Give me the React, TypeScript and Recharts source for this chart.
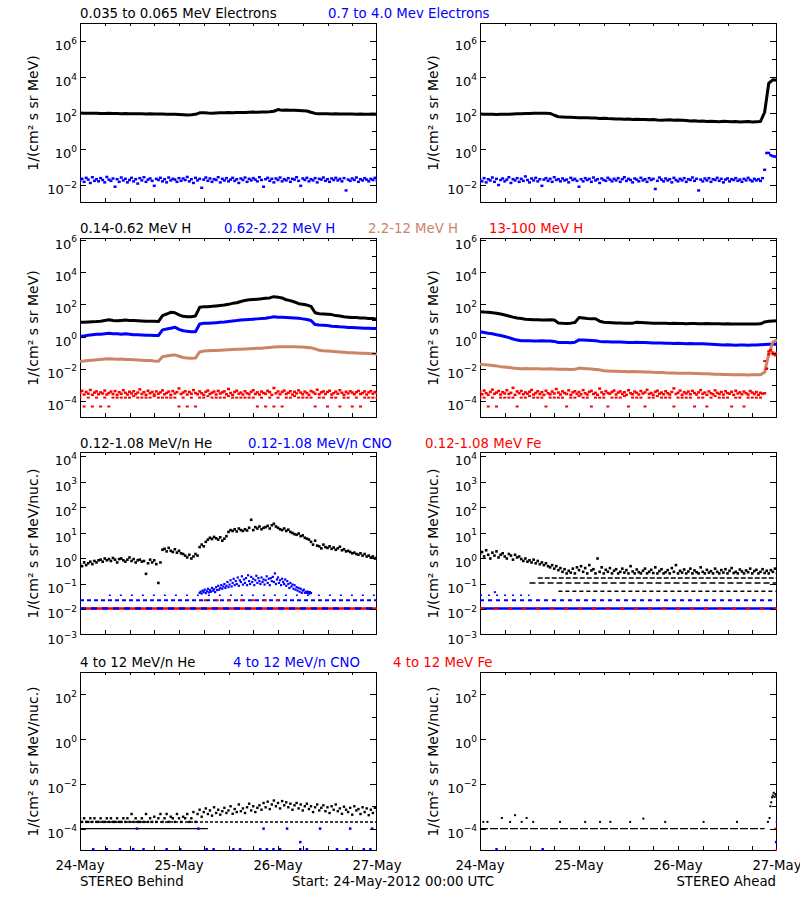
import type { ReactNode } from 'react';
import { ComposedChart, Line, Scatter, XAxis, YAxis, ReferenceArea } from 'recharts';

const FONT = '"DejaVu Sans", Verdana, sans-serif';
const BLACK = '#000000';
const BLUE = '#0000ff';
const BROWN = '#cc8466';
const RED = '#ff0000';

// time axis, hours after 24-May-2012 00:00 UTC
const HOUR_TICKS = [0, 6, 12, 18, 24, 30, 36, 42, 48, 54, 60, 66, 72];
const DAY_TICKS = [0, 24, 48, 72];
const DAY_LABELS = ['24-May', '25-May', '26-May', '27-May'];

// y ticks per row
const ELECTRON_TICKS = [1e-2, 1e-1, 1, 10, 1e2, 1e3, 1e4, 1e5, 1e6];
const ELECTRON_LABELS = [1e-2, 1, 1e2, 1e4, 1e6];
const PROTON_TICKS = [1e-4, 1e-3, 1e-2, 1e-1, 1, 10, 1e2, 1e3, 1e4, 1e5, 1e6];
const PROTON_LABELS = [1e-4, 1e-2, 1, 1e2, 1e4, 1e6];
const ION_LO_TICKS = [1e-3, 1e-2, 1e-1, 1, 10, 1e2, 1e3, 1e4];
const ION_HI_TICKS = [1e-4, 1e-3, 1e-2, 1e-1, 1, 10, 1e2];
const ION_HI_LABELS = [1e-4, 1e-2, 1, 1e2];

// ---- row 1: electrons (hourly / half-hourly) ----
const electronLoBehind = [
  100, 98, 97, 96, 97, 95, 94, 96, 95, 93,
  92, 93, 90, 91, 92, 90, 89, 90, 88, 89,
  87, 86, 85, 84, 82, 80, 78, 80, 84, 102,
  104, 100, 98, 100, 102, 103, 105, 104, 106, 107,
  108, 110, 112, 111, 113, 115, 118, 125, 155, 140,
  145, 142, 140, 138, 135, 130, 110, 95, 92, 90,
  91, 89, 90, 88, 89, 87, 88, 86, 87, 85,
  86, 88, 85,
];
const electronHiBehind = [
  0.018, 0.022, 0.015, 0.025, 0.02, 0.013, 0.027, 0.017, 0.021, 0.016,
  0.024, 0.019, 0.014, 0.028, 0.02, 0.017, 0.023, 0.008, 0.021, 0.015,
  0.026, 0.018, 0.022, 0.014, 0.019, 0.025, 0.016, 0.021, 0.012, 0.024,
  0.018, 0.027, 0.015, 0.02, 0.023, 0.017, 0.009, 0.022, 0.019, 0.025,
  0.016, 0.021, 0.014, 0.026, 0.018, 0.022, 0.02, 0.015, 0.024, 0.017,
  0.023, 0.019, 0.028, 0.016, 0.021, 0.013, 0.025, 0.018, 0.022, 0.007,
  0.02, 0.026, 0.017, 0.023, 0.015, 0.021, 0.019, 0.027, 0.014, 0.022,
  0.018, 0.024, 0.016, 0.02, 0.025, 0.017, 0.021, 0.013, 0.023, 0.019,
  0.026, 0.015, 0.022, 0.018, 0.024, 0.02, 0.016, 0.027, 0.019, 0.008,
  0.021, 0.025, 0.017, 0.022, 0.014, 0.023, 0.019, 0.026, 0.016, 0.021,
  0.018, 0.024, 0.015, 0.022, 0.02, 0.027, 0.017, 0.009, 0.023, 0.019,
  0.025, 0.016, 0.021, 0.018, 0.024, 0.014, 0.022, 0.02, 0.026, 0.017,
  0.021, 0.015, 0.023, 0.019, 0.025, 0.018, 0.022, 0.016, 0.024, 0.005,
  0.02, 0.017, 0.023, 0.019, 0.026, 0.015, 0.021, 0.018, 0.024, 0.02,
  0.016, 0.022, 0.019, 0.025, 0.018,
];
const electronLoAhead = [
  88, 86, 85, 84, 82, 84, 86, 85, 88, 90,
  92, 94, 95, 97, 98, 96, 97, 95, 75, 62,
  60, 58, 58, 57, 55, 54, 55, 53, 52, 50,
  51, 49, 48, 47, 46, 45, 46, 44, 45, 43,
  44, 42, 43, 41, 40, 41, 42, 40, 41, 40,
  38, 36, 37, 35, 36, 34, 35, 34, 33, 35,
  34, 33, 34, 32, 33, 34, 32, 33, 34, 110,
  4500, 7000, 6500,
];
const electronHiAhead = [
  0.02, 0.016, 0.024, 0.014, 0.021, 0.018, 0.026, 0.015, 0.022, 0.01,
  0.019, 0.023, 0.016, 0.02, 0.027, 0.013, 0.021, 0.018, 0.024, 0.015,
  0.022, 0.017, 0.03, 0.019, 0.014, 0.023, 0.018, 0.025, 0.016, 0.021,
  0.009, 0.02, 0.024, 0.017, 0.022, 0.015, 0.027, 0.019, 0.021, 0.016,
  0.023, 0.018, 0.02, 0.014, 0.025, 0.019, 0.022, 0.017, 0.008, 0.021,
  0.016, 0.024, 0.019, 0.022, 0.015, 0.026, 0.018, 0.021, 0.013, 0.023,
  0.019, 0.017, 0.025, 0.02, 0.016, 0.022, 0.018, 0.024, 0.015, 0.021,
  0.027, 0.017, 0.022, 0.019, 0.014, 0.023, 0.02, 0.016, 0.025, 0.018,
  0.021, 0.015, 0.024, 0.019, 0.022, 0.006, 0.017, 0.026, 0.02, 0.016,
  0.023, 0.018, 0.021, 0.014, 0.025, 0.019, 0.016, 0.022, 0.018, 0.024,
  0.015, 0.021, 0.019, 0.026, 0.017, 0.022, 0.005, 0.02, 0.016, 0.023,
  0.018, 0.024, 0.015, 0.021, 0.019, 0.025, 0.017, 0.022, 0.014, 0.02,
  0.023, 0.016, 0.021, 0.019, 0.024, 0.017, 0.02, 0.015, 0.022, 0.018,
  0.025, 0.019, 0.016, 0.022, 0.018, 0.021, 0.017, 0.024, 0.07, 0.6,
  0.6, 0.45, 0.4, 0.38, 0.35,
];

// ---- row 2: protons ----
const protonLoBehind = [
  7.7, 7.8, 8, 8.3, 8.5, 9, 10, 11, 10, 9.5,
  10, 10.5, 10, 9.8, 9.5, 9.2, 9, 8.8, 8.8, 8.5,
  20, 25, 32, 30, 22, 18, 17, 17, 19, 65,
  70, 72, 75, 80, 85, 90, 100, 115, 125, 150,
  175, 190, 200, 210, 220, 240, 250, 300, 280, 250,
  190, 170, 140, 110, 100, 90, 75, 30, 26, 25,
  24, 23, 20, 19, 17, 16, 15, 15, 14, 14,
  13, 13, 12,
];
const protonMidBehind = [
  1.0, 1.1, 1.2, 1.3, 1.4, 1.4, 1.5, 1.6, 1.5, 1.5,
  1.4, 1.5, 1.4, 1.3, 1.3, 1.25, 1.2, 1.2, 1.15, 1.15,
  2.6, 2.9, 3.3, 3.8, 2.8, 2.3, 2.1, 2.0, 2.0, 6.0,
  6.6, 6.8, 7.0, 7.3, 7.6, 8.0, 8.6, 9.3, 9.8, 10.5,
  11, 11.5, 12, 12.5, 13, 13.5, 15, 17, 16, 15.5,
  15, 14.5, 14, 13.5, 12.5, 11.5, 10, 5.5, 5.2, 5.0,
  4.8, 4.4, 4.2, 4.0, 3.9, 3.7, 3.6, 3.5, 3.4, 3.3,
  3.3, 3.2, 3.2,
];
const protonHiBehind = [
  0.028, 0.03, 0.032, 0.034, 0.036, 0.038, 0.04, 0.041, 0.04, 0.039,
  0.04, 0.038, 0.037, 0.036, 0.035, 0.034, 0.033, 0.032, 0.03, 0.029,
  0.056, 0.062, 0.068, 0.072, 0.06, 0.05, 0.046, 0.045, 0.046, 0.11,
  0.126, 0.13, 0.134, 0.138, 0.142, 0.146, 0.15, 0.155, 0.16, 0.165,
  0.17, 0.175, 0.18, 0.185, 0.19, 0.2, 0.21, 0.22, 0.23, 0.23,
  0.235, 0.23, 0.23, 0.225, 0.22, 0.21, 0.2, 0.17, 0.14, 0.13,
  0.125, 0.12, 0.115, 0.11, 0.105, 0.1, 0.098, 0.095, 0.092, 0.09,
  0.088, 0.085, 0.083,
];
const protonTopBehind = [
  3.0e-4, 4.2e-4, 2.5e-4, 3.6e-4, 2.8e-4, 4.8e-4, 2.4e-4, 3.3e-4, 3.9e-4, 2.6e-4,
  3.4e-4, 2.9e-4, 4.4e-4, 2.5e-4, 3.1e-4, 3.8e-4, 2.7e-4, 4.1e-4, 2.4e-4, 3.5e-4,
  2.8e-4, 4.6e-4, 3.2e-4, 2.5e-4, 3.7e-4, 2.9e-4, 4.0e-4, 2.6e-4, 3.3e-4, 5.2e-4,
  2.7e-4, 3.5e-4, 2.4e-4, 4.3e-4, 3.0e-4, 3.6e-4, 2.5e-4, 3.9e-4, 2.8e-4, 3.4e-4,
  4.5e-4, 2.6e-4, 3.1e-4, 3.8e-4, 2.4e-4, 4.1e-4, 2.9e-4, 3.5e-4, 6.0e-4, 2.7e-4,
  3.3e-4, 4.0e-4, 2.5e-4, 3.6e-4, 2.8e-4, 4.7e-4, 3.1e-4, 2.6e-4, 3.9e-4, 3.0e-4,
  2.4e-4, 3.7e-4, 4.4e-4, 2.7e-4, 3.2e-4, 3.8e-4, 2.5e-4, 4.2e-4, 2.9e-4, 3.4e-4,
  3.9e-4, 2.6e-4, 5.5e-4, 3.1e-4, 2.4e-4, 3.6e-4, 4.3e-4, 2.8e-4, 3.3e-4, 2.5e-4,
  4.0e-4, 3.0e-4, 2.6e-4, 3.7e-4, 4.6e-4, 2.7e-4, 3.4e-4, 2.5e-4, 3.8e-4, 3.1e-4,
  2.8e-4, 4.2e-4, 3.5e-4, 2.4e-4, 6.3e-4, 3.0e-4, 3.9e-4, 2.6e-4, 3.6e-4, 4.4e-4,
  2.7e-4, 3.2e-4, 4.0e-4, 2.5e-4, 3.7e-4, 2.9e-4, 4.5e-4, 3.3e-4, 2.6e-4, 3.8e-4,
  3.1e-4, 2.4e-4, 4.1e-4, 3.5e-4, 2.8e-4, 5.0e-4, 2.6e-4, 3.4e-4, 3.9e-4, 2.7e-4,
  3.6e-4, 4.3e-4, 2.5e-4, 3.0e-4, 3.8e-4, 2.8e-4, 4.6e-4, 3.2e-4, 2.4e-4, 3.7e-4,
  2.9e-4, 4.0e-4, 3.3e-4, 2.6e-4, 3.5e-4, 4.2e-4, 2.7e-4, 3.1e-4, 3.9e-4, 2.5e-4,
  3.4e-4, 4.1e-4, 2.8e-4, 3.6e-4, 3.0e-4,
];
const protonTopBehindLow = [
  1.6e-4, 4.5e-5, 1.6e-4, 4.5e-5, 1.6e-4, 4.5e-5, 1.6e-4, 4.5e-5, 1.6e-4, 1.6e-4,
  1.6e-4, 1.6e-4, 1.6e-4, 2e-4, 1.6e-4, 1.6e-4, 1.6e-4, 1.6e-4, 2e-4, 1.6e-4,
  1.6e-4, 1.6e-4, 1.6e-4, 1.6e-4, 4.5e-5, 1.6e-4, 4.5e-5, 1.6e-4, 4.5e-5, 1.6e-4,
  1.6e-4, 2e-4, 1.6e-4, 1.6e-4, 1.6e-4, 1.6e-4, 2e-4, 1.6e-4, 1.6e-4, 1.6e-4,
  1.6e-4, 1.6e-4, 1.6e-4, 4.5e-5, 1.6e-4, 4.5e-5, 1.6e-4, 4.5e-5, 1.6e-4, 4.5e-5,
  1.6e-4, 1.6e-4, 2e-4, 1.6e-4, 1.6e-4, 1.6e-4, 1.6e-4, 4.5e-5, 1.6e-4, 1.6e-4,
  4.5e-5, 1.6e-4, 1.6e-4, 4.5e-5, 1.6e-4, 1.6e-4, 4.5e-5, 1.6e-4, 4.5e-5, 1.6e-4,
  1.6e-4, 1.6e-4, 1.6e-4,
];
const protonLoAhead = [
  35, 33, 32, 30, 28, 25, 22, 19, 16, 14,
  13, 12, 11.5, 11, 11, 10.8, 10.5, 11, 10.5, 7,
  6.6, 6.5, 6.8, 7.5, 15, 14, 13, 12.5, 12.6, 9,
  7.8, 7.5, 7.3, 7, 6.9, 6.8, 6.6, 6.8, 7.8, 7.5,
  7.2, 7, 6.8, 6.7, 6.6, 6.6, 6.5, 6.6, 6.4, 6.5,
  6.3, 6.4, 6.5, 6.3, 6.2, 6.4, 6.3, 6.2, 6.3, 6.1,
  6.2, 6.0, 6.1, 6.0, 5.9, 6.0, 6.0, 6.1, 6.2, 8,
  9, 9.3, 9.5,
];
const protonMidAhead = [
  2.0, 1.8, 1.6, 1.5, 1.3, 1.15, 1.0, 0.85, 0.7, 0.6,
  0.55, 0.54, 0.55, 0.53, 0.52, 0.54, 0.53, 0.52, 0.5, 0.43,
  0.42, 0.42, 0.41, 0.44, 0.62, 0.6, 0.58, 0.56, 0.54, 0.5,
  0.48, 0.47, 0.46, 0.45, 0.45, 0.44, 0.43, 0.42, 0.44, 0.43,
  0.42, 0.41, 0.4, 0.4, 0.39, 0.38, 0.38, 0.37, 0.38, 0.37,
  0.36, 0.37, 0.36, 0.35, 0.35, 0.34, 0.33, 0.32, 0.31, 0.3,
  0.31, 0.3, 0.29, 0.3, 0.3, 0.29, 0.3, 0.3, 0.31, 0.32,
  0.33, 0.33, 0.33,
];
const protonHiAhead = [
  0.019, 0.018, 0.017, 0.016, 0.015, 0.0135, 0.013, 0.012, 0.011, 0.0105,
  0.01, 0.0102, 0.01, 0.0098, 0.01, 0.0097, 0.0095, 0.0098, 0.0096, 0.0094,
  0.0092, 0.0093, 0.009, 0.0092, 0.011, 0.0105, 0.01, 0.0095, 0.009, 0.0085,
  0.0075, 0.0072, 0.007, 0.0069, 0.0068, 0.0067, 0.0066, 0.0067, 0.0065, 0.0064,
  0.0063, 0.0062, 0.006, 0.0059, 0.0058, 0.0056, 0.0055, 0.0054, 0.0053, 0.0052,
  0.0053, 0.0052, 0.0051, 0.005, 0.0049, 0.0048, 0.0047, 0.0046, 0.0045, 0.0044,
  0.0044, 0.0043, 0.0043, 0.0042, 0.0042, 0.0041, 0.0042, 0.0042, 0.0043, 0.006,
  0.08, 0.45, 0.6,
];
const protonTopAhead = [
  3.8e-4, 2.6e-4, 4.4e-4, 3.0e-4, 2.4e-4, 3.6e-4, 5.0e-4, 2.8e-4, 3.3e-4, 4.1e-4,
  2.5e-4, 3.5e-4, 2.9e-4, 4.6e-4, 2.7e-4, 3.2e-4, 6.5e-4, 2.4e-4, 3.9e-4, 3.0e-4,
  4.2e-4, 2.6e-4, 3.4e-4, 2.8e-4, 3.7e-4, 4.8e-4, 2.5e-4, 3.1e-4, 4.0e-4, 2.7e-4,
  3.5e-4, 2.4e-4, 4.3e-4, 3.0e-4, 2.6e-4, 3.8e-4, 2.9e-4, 5.5e-4, 3.3e-4, 2.5e-4,
  3.9e-4, 3.1e-4, 2.7e-4, 4.5e-4, 2.4e-4, 3.4e-4, 4.0e-4, 2.8e-4, 3.6e-4, 2.6e-4,
  4.7e-4, 3.0e-4, 2.5e-4, 3.7e-4, 4.2e-4, 2.7e-4, 3.2e-4, 2.4e-4, 5.8e-4, 3.4e-4,
  2.6e-4, 4.0e-4, 3.1e-4, 2.8e-4, 3.6e-4, 4.4e-4, 2.5e-4, 3.3e-4, 3.9e-4, 2.7e-4,
  3.5e-4, 2.4e-4, 4.6e-4, 3.0e-4, 2.6e-4, 3.8e-4, 3.2e-4, 2.5e-4, 4.1e-4, 2.9e-4,
  3.4e-4, 4.9e-4, 2.7e-4, 3.1e-4, 2.4e-4, 3.7e-4, 4.3e-4, 2.8e-4, 3.3e-4, 2.6e-4,
  4.0e-4, 3.0e-4, 2.5e-4, 3.6e-4, 6.0e-4, 2.7e-4, 3.2e-4, 4.4e-4, 2.4e-4, 3.5e-4,
  2.9e-4, 3.8e-4, 2.6e-4, 4.2e-4, 3.1e-4, 2.5e-4, 3.4e-4, 4.7e-4, 2.8e-4, 3.3e-4,
  2.4e-4, 3.9e-4, 3.0e-4, 2.6e-4, 4.5e-4, 3.2e-4, 2.7e-4, 3.6e-4, 2.5e-4, 4.0e-4,
  3.1e-4, 2.8e-4, 3.7e-4, 2.4e-4, 4.3e-4, 2.9e-4, 3.4e-4, 2.6e-4, 3.8e-4, 3.0e-4,
  2.5e-4, 4.1e-4, 3.3e-4, 2.7e-4, 3.6e-4, 2.4e-4, 3.2e-4, 2.8e-4, 3.0e-4, 0.01,
  0.08, 0.14, 0.1, 0.07, 0.09,
];
const protonTopAheadLow = [
  1.6e-4, 1.6e-4, 4.5e-5, 1.6e-4, 4.5e-5, 1.6e-4, 1.6e-4, 1.6e-4, 1.6e-4, 4.5e-5,
  1.6e-4, 1.6e-4, 2e-4, 1.6e-4, 1.6e-4, 1.6e-4, 4.5e-5, 1.6e-4, 1.6e-4, 1.6e-4,
  1.6e-4, 4.5e-5, 1.6e-4, 1.6e-4, 2e-4, 1.6e-4, 1.6e-4, 4.5e-5, 1.6e-4, 1.6e-4,
  1.6e-4, 4.5e-5, 1.6e-4, 1.6e-4, 1.6e-4, 2e-4, 4.5e-5, 1.6e-4, 1.6e-4, 1.6e-4,
  4.5e-5, 1.6e-4, 1.6e-4, 2e-4, 1.6e-4, 1.6e-4, 1.6e-4, 4.5e-5, 1.6e-4, 1.6e-4,
  1.6e-4, 1.6e-4, 4.5e-5, 1.6e-4, 1.6e-4, 4.5e-5, 1.6e-4, 2e-4, 1.6e-4, 1.6e-4,
  1.6e-4, 4.5e-5, 1.6e-4, 1.6e-4, 4.5e-5, 1.6e-4, 1.6e-4, 1.6e-4, 1.6e-4, 0.03,
  0.12, 0.08, 0.1,
];

// ---- row 3: 0.12-1.08 MeV/n ions ----
const heliumLoBehind = [
  0.6, 0.5, 0.7, 0.55, 0.65, 0.75, 0.6, 0.8, 0.7, 0.85,
  0.9, 0.75, 1.0, 0.85, 0.95, 0.8, 1.05, 0.9, 0.7, 0.95,
  1.0, 0.85, 0.75, 0.9, 1.1, 0.8, 0.95, 0.7, 0.85, 0.9,
  0.75, 0.8, 0.25, 0.65, 0.9, 0.7, 0.85, 0.6, 0.11, 0.7,
  2.2, 2.4, 1.9, 2.6, 2.0, 1.8, 2.3, 1.7, 2.0, 1.6,
  1.5, 1.3, 1.1, 1.4, 1.0, 1.2, 1.5, 1.3, 2.8, 3.5,
  3.0, 4.5, 5.5, 6.5, 5.8, 7.0, 6.2, 5.5, 6.8, 5.0,
  6.0, 7.5, 11, 13, 12, 14, 11.5, 15, 13, 12,
  14, 12.5, 16, 33, 13, 17, 15, 18, 14, 16,
  17, 19, 15, 20, 23, 18, 16, 14, 13, 15,
  12, 13.5, 11, 10, 9, 8.5, 9.5, 7.5, 8, 6.5,
  6, 5.5, 4.5, 3.5, 5, 3.2, 3.0, 2.5, 3.5, 2.8,
  2.6, 3.0, 2.4, 2.7, 2.2, 2.5, 2.9, 2.1, 2.3, 1.9,
  2.0, 1.8, 1.6, 1.7, 1.5, 1.4, 1.6, 1.3, 1.5, 1.2,
  1.3, 1.1, 1.2, 1.0, 1.15,
];
const cnoLoBehindHumpStart = 29;
const cnoLoBehindHump = [
  0.045, 0.05, 0.042, 0.055, 0.048, 0.06, 0.044, 0.052,
  0.065, 0.047, 0.058, 0.05, 0.07, 0.055, 0.062, 0.048,
  0.075, 0.058, 0.085, 0.06, 0.07, 0.09, 0.065, 0.08,
  0.1, 0.07, 0.085, 0.12, 0.075, 0.095, 0.14, 0.08,
  0.11, 0.16, 0.09, 0.13, 0.1, 0.18, 0.085, 0.14,
  0.12, 0.2, 0.095, 0.15, 0.11, 0.17, 0.09, 0.22,
  0.13, 0.1, 0.19, 0.12, 0.16, 0.09, 0.14, 0.21,
  0.11, 0.17, 0.13, 0.1, 0.18, 0.12, 0.15, 0.095,
  0.14, 0.2, 0.11, 0.16, 0.09, 0.17, 0.13, 0.19,
  0.12, 0.26, 0.1, 0.15, 0.18, 0.11, 0.14, 0.09,
  0.16, 0.12, 0.1, 0.15, 0.085, 0.13, 0.1, 0.07,
  0.11, 0.08, 0.095, 0.065, 0.09, 0.06, 0.075, 0.055,
  0.07, 0.05, 0.065, 0.045, 0.055, 0.06, 0.045, 0.05,
  0.045, 0.05, 0.042, 0.048, 0.044,
];
const cnoLoBehindLevels = [
  { from: 7, to: 72, value: 0.036 },
  { from: 0, to: 72, value: 0.023 },
  { from: 0, to: 72, value: 0.011 },
];
const feLoBehindLevels = [
  { from: 30, to: 50, value: 0.023 },
  { from: 0, to: 72, value: 0.011 },
];
const heliumLoAhead = [
  1.5, 1.8, 1.2, 2.1, 1.4, 1.0, 1.7, 1.3, 1.9, 1.1,
  1.4, 1.6, 1.2, 1.0, 1.5, 1.3, 0.9, 1.4, 1.1, 1.2,
  0.95, 0.8, 1.0, 0.75, 0.85, 0.7, 0.9, 0.65, 0.8, 0.6,
  0.7, 0.55, 0.65, 0.5, 0.45, 0.55, 0.4, 0.5, 0.35, 0.42,
  0.3, 0.38, 0.26, 0.33, 0.28, 0.4, 0.26, 0.45, 0.35, 0.5,
  0.3, 0.42, 0.26, 0.55, 0.34, 0.38, 0.26, 1.0, 0.3, 0.45,
  0.26, 0.36, 0.3, 0.42, 0.26, 0.33, 0.38, 0.26, 0.3, 0.4,
  0.28, 0.35, 0.26, 0.5, 0.31, 0.26, 0.37, 0.29, 0.26, 0.33,
  0.4, 0.26, 0.3, 0.36, 0.27, 0.45, 0.26, 0.32, 0.38, 0.26,
  0.29, 0.35, 0.26, 0.42, 0.3, 0.55, 0.26, 0.33, 0.28, 0.37,
  0.26, 0.31, 0.4, 0.26, 0.34, 0.29, 0.26, 0.45, 0.3, 0.26,
  0.36, 0.28, 0.32, 0.26, 0.4, 0.3, 0.26, 0.35, 0.28, 0.38,
  0.26, 0.33, 0.42, 0.27, 0.3, 0.26, 0.37, 0.31, 0.26, 0.34,
  0.29, 0.4, 0.26, 0.32, 0.36, 0.26, 0.3, 0.38, 0.27, 0.33,
  0.26, 0.35, 0.3, 0.4, 0.26,
];
const heliumLoAheadLevels = [
  { from: 14, to: 72, value: 0.17 },
  { from: 12, to: 72, value: 0.11 },
  { from: 19, to: 72, value: 0.052 },
];
const cnoLoAheadLevels = [
  { from: 0, to: 12, value: 0.036 },
  { from: 0, to: 72, value: 0.023 },
  { from: 0, to: 72, value: 0.011 },
];
const feLoAheadLevels = [{ from: 0, to: 72, value: 0.011 }];
const cnoLoAheadHours = [3.6];
const cnoLoAheadValues = [0.048];

// ---- row 4: 4-12 MeV/n ions ----
const heliumHiBehind = [
  2.9e-4, 2e-4, 2.9e-4, 2e-4, 2e-4, 2.9e-4, 2e-4, 2.9e-4, 2e-4, 2e-4,
  2.9e-4, 2e-4, 2e-4, 2.9e-4, 2e-4, 2.9e-4, 2e-4, 2e-4, 2.9e-4, 2e-4,
  2e-4, 2.9e-4, 2e-4, 2.9e-4, 2e-4, 4.5e-4, 2e-4, 2.9e-4, 2e-4, 2e-4,
  2.9e-4, 2e-4, 4.5e-4, 2e-4, 2.9e-4, 2e-4, 3.4e-4, 2e-4, 2.9e-4, 4.5e-4,
  2e-4, 2.9e-4, 4.5e-4, 2e-4, 3.4e-4, 2.9e-4, 2e-4, 4.5e-4, 2.9e-4, 2e-4,
  3.4e-4, 2.9e-4, 4.5e-4, 2e-4, 2.9e-4, 5.5e-4, 2e-4, 4.5e-4, 7e-4, 3.4e-4,
  5.5e-4, 8e-4, 4.5e-4, 6.5e-4, 3.8e-4, 9e-4, 5e-4, 7e-4, 4.2e-4, 6e-4,
  8.5e-4, 5e-4, 6.5e-4, 1e-3, 4.6e-4, 7.5e-4, 5.5e-4, 1.2e-3, 6e-4, 8e-4,
  5e-4, 9e-4, 1.3e-3, 6.5e-4, 1e-3, 5.5e-4, 8.5e-4, 1.1e-3, 7e-4, 1.4e-3,
  9e-4, 1.6e-3, 7.5e-4, 1.2e-3, 1.8e-3, 1e-3, 1.4e-3, 8e-4, 1.7e-3, 1.1e-3,
  1.5e-3, 9e-4, 1.3e-3, 7e-4, 1.1e-3, 1.4e-3, 8e-4, 1.2e-3, 6.5e-4, 1e-3,
  1.3e-3, 7.5e-4, 1e-3, 5.5e-4, 9e-4, 1.2e-3, 6.5e-4, 8.5e-4, 1.1e-3, 6e-4,
  9e-4, 5e-4, 1e-3, 7e-4, 1.2e-3, 6e-4, 8e-4, 4.6e-4, 9.5e-4, 7e-4,
  5.5e-4, 8.5e-4, 4.2e-4, 1e-3, 6.5e-4, 7.5e-4, 4.5e-4, 9e-4, 5.5e-4, 8e-4,
  4e-4, 7e-4, 5e-4, 8.5e-4, 6e-4,
];
const heliumHiBehindLevels = [
  { from: 0, to: 31, value: 1e-4 },
  { from: 0, to: 72, value: 2e-4 },
];
const cnoHiBehindHours = [
  3.2, 6.5, 9.7, 12.9, 13.8, 15.4, 21, 24.3, 28.7, 30.7,
  32.4, 37.2, 38.8, 43.7, 44.5, 45.3, 46.9, 48.5, 50.2, 53.4,
  53.4, 55, 58.2, 62.3, 64.7, 65.5, 68.8, 70.4, 70.8,
];
const cnoHiBehindValues = [
  1.2e-5, 1.2e-5, 1.2e-5, 1.2e-5, 1e-4, 1.2e-5, 1.2e-5, 1.2e-5, 1e-4, 1.2e-5,
  1.2e-5, 1.2e-5, 1.2e-5, 1.2e-5, 1e-4, 1.2e-5, 1.2e-5, 1.2e-5, 1e-4, 1.2e-5,
  2.5e-5, 1.2e-5, 1e-4, 1.2e-5, 1.2e-5, 1e-4, 1.2e-5, 1.2e-5, 1e-4,
];
const heliumHiAheadHours = [
  0.8, 1.8, 5.3, 7.3, 8.5, 10.1, 11.3, 12.9, 19.4, 25.5,
  29.1, 31.6, 36.4, 39.6, 44.9, 54.2, 62.3, 69.8, 70.2, 70.4,
  70.6, 70.8, 71, 71.2, 71.4, 71.6, 71.8, 72,
];
const heliumHiAheadValues = [
  2e-4, 2e-4, 3e-4, 2e-4, 4e-4, 2e-4, 3e-4, 2e-4, 2e-4, 2e-4,
  2e-4, 2e-4, 2e-4, 2.8e-4, 2e-4, 2e-4, 2e-4, 2e-4, 3e-4, 1e-3,
  1.5e-3, 2.5e-3, 3e-3, 4e-3, 2.6e-3, 3.5e-3, 3e-3, 4.5e-3,
];
const heliumHiAheadLevels = [{ from: 0, to: 69, value: 1e-4 }];
const cnoHiAheadHours = [4, 15.2, 71.8, 72];
const cnoHiAheadValues = [1.2e-5, 1.2e-5, 2.5e-5, 2e-4];
const feHiAheadHours = [71.6, 71.9];
const feHiAheadValues = [1e-4, 1.1e-5];

// ---- layout ----
const PLOT_W = 297;
const CHART_W = 400;
const Y_AXIS_W = 80;
const PAD_TOP = 5;
const X_AXIS_H = 40;

type Pt = { t: number; v: number };
type Level = { from: number; to: number; value: number };

const sampled = (values: number[], step: number, start = 0): Pt[] =>
  values.map((v, i) => ({ t: start + i * step, v }));
const paired = (hours: number[], values: number[]): Pt[] =>
  hours.map((t, i) => ({ t, v: values[i] }));

const square = (w: number, h: number, color: string) => (props: any) => {
  const { cx, cy } = props;
  if (!Number.isFinite(cx) || !Number.isFinite(cy)) return <g />;
  return <rect x={cx - w / 2} y={cy - h / 2} width={w} height={h} fill={color} />;
};

const trace = (key: string, data: Pt[], color: string, width = 3) => (
  <Line key={key} data={data} dataKey="v" type="linear" stroke={color} strokeWidth={width}
    strokeLinejoin="round" dot={false} activeDot={false} isAnimationActive={false} />
);
const dots = (key: string, data: Pt[], color: string, w = 2, h = w) => (
  <Scatter key={key} data={data} dataKey="v" fill={color} shape={square(w, h, color)} isAnimationActive={false} />
);
const level = (key: string, l: Level, color: string, dash?: string, width = 2) => (
  <Line key={key} data={[{ t: l.from, v: l.value }, { t: l.to, v: l.value }]} dataKey="v" stroke={color}
    strokeWidth={width} strokeDasharray={dash} dot={false} activeDot={false} isAnimationActive={false} />
);

interface PanelSpec {
  col: number;
  top: number;
  boxHeight: number;
  domain: [number, number];
  ticks: number[];
  labelled: number[];
  dates?: boolean;
}

const expText = (v: number) => {
  const e = Math.round(Math.log10(v));
  return e < 0 ? `\u2212${-e}` : String(e);
};

const yTick = (spec: PanelSpec) => (props: any) => {
  const { x, y, payload } = props;
  const value = payload.value as number;
  const labelled = spec.labelled.includes(value);
  const left = x + 3;
  const right = left + PLOT_W - 1;
  const edge = value <= spec.domain[0] * 1.01 || value >= spec.domain[1] * 0.99;
  const py = Math.round(y) + 0.5;
  return (
    <g>
      {!edge && labelled && <line x1={left} x2={left + 6} y1={py} y2={py} stroke={BLACK} />}
      {!edge && <line x1={right - (labelled ? 6 : 4)} x2={right} y1={py} y2={py} stroke={BLACK} />}
      {labelled && (
        <text x={x} y={y + 9} textAnchor="end" fontFamily={FONT} fontSize={13} fill={BLACK}>
          10<tspan dy={-6.5} fontSize={9}>{expText(value)}</tspan>
        </text>
      )}
    </g>
  );
};

const xTick = (spec: PanelSpec) => (props: any) => {
  const { x, y, payload } = props;
  const h = payload.value as number;
  const px = Math.round(x) + 0.5;
  const edge = h === 0 || h === 72;
  const day = DAY_TICKS.indexOf(h);
  return (
    <g>
      {!edge && <line x1={px} x2={px} y1={y} y2={y - 5} stroke={BLACK} />}
      {!edge && <line x1={px} x2={px} y1={y - spec.boxHeight} y2={y - spec.boxHeight + 3} stroke={BLACK} />}
      {spec.dates && day >= 0 && (
        <text x={x} y={y + 19} textAnchor="middle" fontFamily={FONT} fontSize={13.3} fill={BLACK}>
          {DAY_LABELS[day]}
        </text>
      )}
    </g>
  );
};

const frame = (props: any) => (
  <rect x={Math.round(props.x) + 0.5} y={Math.round(props.y) + 0.5}
    width={Math.round(props.width) - 1} height={Math.round(props.height) - 1}
    fill="none" stroke={BLACK} strokeWidth={1} />
);

function panel(key: string, spec: PanelSpec, series: ReactNode[]) {
  return (
    <div key={key} style={{ position: 'absolute', left: spec.col * CHART_W, top: spec.top - PAD_TOP }}>
      <ComposedChart width={CHART_W} height={PAD_TOP + spec.boxHeight + X_AXIS_H}
        margin={{ top: PAD_TOP, right: CHART_W - Y_AXIS_W - PLOT_W, bottom: 0, left: 0 }}>
        <XAxis type="number" dataKey="t" domain={[0, 72]} allowDataOverflow ticks={HOUR_TICKS} interval={0}
          height={X_AXIS_H} axisLine={false} tickLine={false} tickSize={0} tickMargin={0} tick={xTick(spec)} />
        <YAxis type="number" dataKey="v" scale="log" domain={spec.domain} allowDataOverflow ticks={spec.ticks}
          interval={0} width={Y_AXIS_W} axisLine={false} tickLine={false} tickSize={0} tickMargin={3}
          tick={yTick(spec)} />
        {series}
        <ReferenceArea x1={0} x2={72} y1={spec.domain[0]} y2={spec.domain[1]} ifOverflow="visible" shape={frame} />
      </ComposedChart>
    </div>
  );
}

const ROW1 = { top: 23, boxHeight: 180, domain: [1e-3, 1e7] as [number, number], ticks: ELECTRON_TICKS, labelled: ELECTRON_LABELS };
const ROW2 = { top: 238, boxHeight: 180, domain: [8.7e-6, 1.32e6] as [number, number], ticks: PROTON_TICKS, labelled: PROTON_LABELS };
const ROW3 = { top: 452, boxHeight: 183, domain: [1e-3, 1.5e4] as [number, number], ticks: ION_LO_TICKS, labelled: ION_LO_TICKS };
const ROW4 = { top: 672, boxHeight: 179, domain: [1e-5, 1e3] as [number, number], ticks: ION_HI_TICKS, labelled: ION_HI_LABELS, dates: true };

export default function App() {
  return (
    <div style={{ position: 'absolute', left: 0, top: 0, width: 800, height: 900, overflow: 'hidden', background: '#fff' }}>
      <style>{'.recharts-surface{overflow:visible}'}</style>
      {panel('e-b', { ...ROW1, col: 0 }, [
        trace('e1', sampled(electronLoBehind, 1), BLACK, 3),
        dots('e2', sampled(electronHiBehind, 0.5), BLUE, 3, 2.5),
      ])}
      {panel('e-a', { ...ROW1, col: 1 }, [
        trace('e1', sampled(electronLoAhead, 1), BLACK, 3),
        dots('e2', sampled(electronHiAhead, 0.5), BLUE, 3, 2.5),
      ])}
      {panel('p-b', { ...ROW2, col: 0 }, [
        trace('p1', sampled(protonLoBehind, 1), BLACK, 3),
        trace('p2', sampled(protonMidBehind, 1), BLUE, 3),
        trace('p3', sampled(protonHiBehind, 1), BROWN, 3),
        dots('p4', sampled(protonTopBehind, 0.5), RED, 3, 2.5),
        dots('p5', sampled(protonTopBehindLow, 1), RED, 3, 2),
      ])}
      {panel('p-a', { ...ROW2, col: 1 }, [
        trace('p1', sampled(protonLoAhead, 1), BLACK, 3),
        trace('p2', sampled(protonMidAhead, 1), BLUE, 3),
        trace('p3', sampled(protonHiAhead, 1), BROWN, 3),
        dots('p4', sampled(protonTopAhead, 0.5), RED, 3, 2.5),
        dots('p5', sampled(protonTopAheadLow, 1), RED, 3, 2),
      ])}
      {panel('i-b', { ...ROW3, col: 0 }, [
        level('l1', cnoLoBehindLevels[0], BLUE, '2 9', 1.5),
        level('l2', cnoLoBehindLevels[1], BLUE, '4 3', 2),
        level('l3', feLoBehindLevels[0], RED, '3 9', 2),
        level('l4', feLoBehindLevels[1], RED, undefined, 2.5),
        level('l5', cnoLoBehindLevels[2], BLUE, '6 5', 2.5),
        dots('c1', sampled(cnoLoBehindHump, 0.25, cnoLoBehindHumpStart), BLUE, 2.2),
        dots('h1', sampled(heliumLoBehind, 0.5), BLACK, 2.6),
      ])}
      {panel('i-a', { ...ROW3, col: 1 }, [
        level('l1', cnoLoAheadLevels[0], BLUE, '2 6', 1.5),
        level('l2', cnoLoAheadLevels[1], BLUE, '4 4', 2),
        level('l3', cnoLoAheadLevels[2], BLUE, undefined, 2.5),
        level('l4', feLoAheadLevels[0], RED, '4 10', 2.5),
        dots('c1', paired(cnoLoAheadHours, cnoLoAheadValues), BLUE, 2),
        level('k1', heliumLoAheadLevels[0], BLACK, '5 2', 1.5),
        level('k2', heliumLoAheadLevels[1], BLACK, '6 3', 1.5),
        level('k3', heliumLoAheadLevels[2], BLACK, '4 3', 1.5),
        dots('h1', sampled(heliumLoAhead, 0.5), BLACK, 2.6),
      ])}
      {panel('j-b', { ...ROW4, col: 0 }, [
        level('k1', heliumHiBehindLevels[0], BLACK, undefined, 1.2),
        level('k2', heliumHiBehindLevels[1], BLACK, '3 2', 1.5),
        dots('h1', sampled(heliumHiBehind, 0.5), BLACK, 2.4),
        dots('c1', paired(cnoHiBehindHours, cnoHiBehindValues), BLUE, 2.5),
      ])}
      {panel('j-a', { ...ROW4, col: 1 }, [
        level('k1', heliumHiAheadLevels[0], BLACK, '8 2', 1.2),
        dots('h1', paired(heliumHiAheadHours, heliumHiAheadValues), BLACK, 2),
        dots('c1', paired(cnoHiAheadHours, cnoHiAheadValues), BLUE, 2.5),
        dots('f1', paired(feHiAheadHours, feHiAheadValues), RED, 2),
      ])}
      <svg width={800} height={900} style={{ position: 'absolute', left: 0, top: 0, pointerEvents: 'none' }}
        fontFamily={FONT} fontSize={13.3}>
        <text x={80} y={18.3} fill={BLACK}>0.035 to 0.065 MeV Electrons</text>
        <text x={328} y={18.3} fill={BLUE}>0.7 to 4.0 Mev Electrons</text>
        <text x={80} y={233.3} fill={BLACK}>0.14-0.62 MeV H</text>
        <text x={224} y={233.3} fill={BLUE}>0.62-2.22 MeV H</text>
        <text x={368} y={233.3} fill={BROWN}>2.2-12 MeV H</text>
        <text x={489} y={233.3} fill={RED}>13-100 MeV H</text>
        <text x={80} y={447.5} fill={BLACK}>0.12-1.08 MeV/n He</text>
        <text x={248} y={447.5} fill={BLUE}>0.12-1.08 MeV/n CNO</text>
        <text x={425} y={447.5} fill={RED}>0.12-1.08 MeV Fe</text>
        <text x={80} y={666.7} fill={BLACK}>4 to 12 MeV/n He</text>
        <text x={233} y={666.7} fill={BLUE}>4 to 12 MeV/n CNO</text>
        <text x={393} y={666.7} fill={RED}>4 to 12 MeV Fe</text>
        <text x={80} y={886} fill={BLACK}>STEREO Behind</text>
        <text x={292} y={886} fill={BLACK}>Start: 24-May-2012 00:00 UTC</text>
        <text x={776} y={886} fill={BLACK} textAnchor="end">STEREO Ahead</text>
        {[0, 400].map((dx) => (
          <g key={dx} fontSize={14} fill={BLACK} textAnchor="middle">
            <text x={dx + 38} y={113} transform={`rotate(-90 ${dx + 38} 113)`}>1/(cm² s sr MeV)</text>
            <text x={dx + 38} y={328} transform={`rotate(-90 ${dx + 38} 328)`}>1/(cm² s sr MeV)</text>
            <text x={dx + 38} y={543.5} transform={`rotate(-90 ${dx + 38} 543.5)`}>1/(cm² s sr MeV/nuc.)</text>
            <text x={dx + 38} y={761.5} transform={`rotate(-90 ${dx + 38} 761.5)`}>1/(cm² s sr MeV/nuc.)</text>
          </g>
        ))}
      </svg>
    </div>
  );
}
